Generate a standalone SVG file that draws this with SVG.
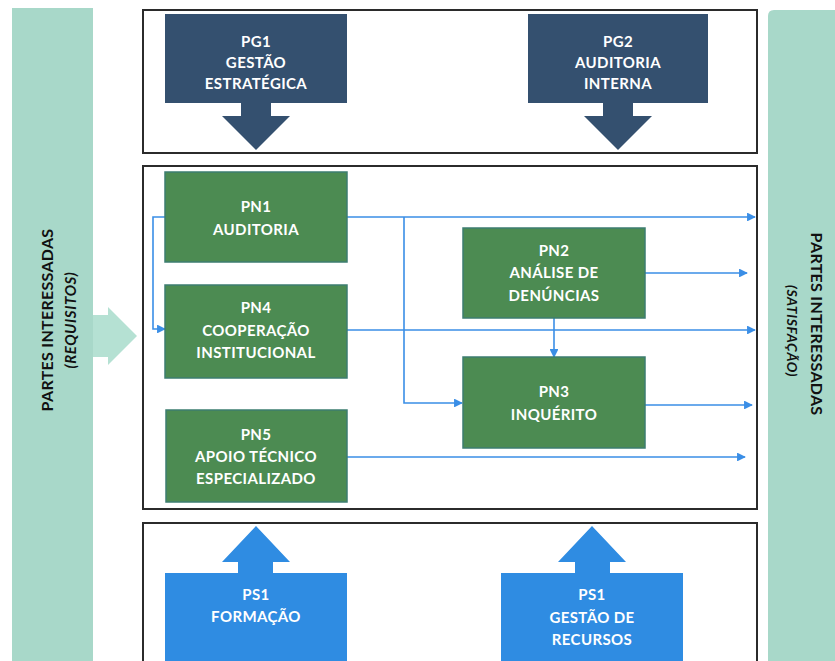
<svg xmlns="http://www.w3.org/2000/svg" width="835" height="661" viewBox="0 0 835 661">
<defs>
<style>
.bar{fill:#a8d8c9}
.frame{fill:#ffffff;stroke:#2b2b2b;stroke-width:2}
.pg{fill:#34506f}
.pn{fill:#4c8b52;stroke:#3d7d70;stroke-width:1.5}
.ps{fill:#2f8ce2}
.t{font-family:Lato,"Open Sans","Liberation Sans",sans-serif;font-weight:bold;font-size:15px;fill:#ffffff;text-anchor:middle;letter-spacing:0.4px}
.side{font-family:Lato,"Open Sans","Liberation Sans",sans-serif;font-weight:bold;font-size:16px;fill:#111111;text-anchor:middle;letter-spacing:0.3px}
.sidei{font-family:Lato,"Open Sans","Liberation Sans",sans-serif;font-weight:bold;font-style:italic;font-size:15px;fill:#111111;text-anchor:middle;letter-spacing:0.6px}
.c{fill:none;stroke:#3a8ee6;stroke-width:1.6}
.ca{fill:none;stroke:#3a8ee6;stroke-width:1.6;marker-end:url(#ah)}
</style>
<marker id="ah" viewBox="0 0 10 10" refX="9" refY="5" markerWidth="5.5" markerHeight="5.5" markerUnits="strokeWidth" orient="auto">
<path d="M0,0 L10,5 L0,10 z" fill="#3a8ee6"/>
</marker>
</defs>

<g id="stakeholders-requirements">
<rect class="bar" x="12" y="8" width="81" height="653"/>
<path d="M93,315 L108,315 L108,307 L137,336 L108,365 L108,357 L93,357 z" fill="#b5e1d3"/>
<text class="side" transform="translate(53,320) rotate(-90)">PARTES INTERESSADAS</text>
<text class="sidei" transform="translate(76,320) rotate(-90)">(REQUISITOS)</text>
</g>

<g id="stakeholders-satisfaction">
<path class="bar" d="M768,16 Q768,10 774,10 L835,10 L835,661 L768,661 z"/>
<text class="side" transform="translate(811,324) rotate(90)">PARTES INTERESSADAS</text>
<text class="sidei" style="font-size:14px" transform="translate(787,331) rotate(90)">(SATISFAÇÃO)</text>
</g>

<g id="frames">
<rect class="frame" x="143" y="10" width="614" height="143"/>
<rect class="frame" x="143" y="166" width="614" height="343"/>
<path class="frame" d="M143,663 L143,523 L757,523 L757,663"/>
</g>

<g id="PG1">
<rect class="pg" x="165" y="14" width="182" height="89"/>
<path class="pg" d="M241,102 L271,102 L271,116 L290,116 L256,150 L222,116 L241,116 z"/>
<text class="t" x="256" y="47">PG1</text>
<text class="t" x="256" y="68">GESTÃO</text>
<text class="t" x="256" y="89">ESTRATÉGICA</text>
</g>

<g id="PG2">
<rect class="pg" x="528" y="14" width="180" height="89"/>
<path class="pg" d="M603,102 L633,102 L633,116 L652,116 L618,150 L584,116 L603,116 z"/>
<text class="t" x="618" y="47">PG2</text>
<text class="t" x="618" y="68">AUDITORIA</text>
<text class="t" x="618" y="89">INTERNA</text>
</g>

<g id="connectors">
<path class="ca" d="M165,217 L153,217 L153,329 L165,329"/>
<path class="ca" d="M347,217 L755,217"/>
<path class="ca" d="M404,217 L404,403 L462,403"/>
<path class="ca" d="M347,330 L755,330"/>
<path class="ca" d="M645,273 L747,273"/>
<path class="ca" d="M554,318 L554,357"/>
<path class="ca" d="M645,405 L752,405"/>
<path class="ca" d="M347,457 L745,457"/>
</g>

<g id="PN1">
<rect class="pn" x="165" y="172" width="182" height="90"/>
<text class="t" x="256" y="212">PN1</text>
<text class="t" x="256" y="235">AUDITORIA</text>
</g>

<g id="PN4">
<rect class="pn" x="165" y="285" width="182" height="93"/>
<text class="t" x="256" y="313">PN4</text>
<text class="t" x="256" y="336">COOPERAÇÃO</text>
<text class="t" x="256" y="358">INSTITUCIONAL</text>
</g>

<g id="PN5">
<rect class="pn" x="166" y="410" width="181" height="92"/>
<text class="t" x="256" y="440">PN5</text>
<text class="t" x="256" y="462">APOIO TÉCNICO</text>
<text class="t" x="256" y="484">ESPECIALIZADO</text>
</g>

<g id="PN2">
<rect class="pn" x="463" y="228" width="182" height="90"/>
<text class="t" x="554" y="256">PN2</text>
<text class="t" x="554" y="278">ANÁLISE DE</text>
<text class="t" x="554" y="301">DENÚNCIAS</text>
</g>

<g id="PN3">
<rect class="pn" x="463" y="357" width="182" height="91"/>
<text class="t" x="554" y="397">PN3</text>
<text class="t" x="554" y="420">INQUÉRITO</text>
</g>

<g id="PS1-formacao">
<path class="ps" d="M238,574 L238,562 L222,562 L256,526 L290,562 L273,562 L273,574 z"/>
<rect class="ps" x="165" y="573" width="182" height="88"/>
<text class="t" x="256" y="600">PS1</text>
<text class="t" x="256" y="622">FORMAÇÃO</text>
</g>

<g id="PS1-gestao-recursos">
<path class="ps" d="M575,574 L575,562 L558,562 L592,526 L626,562 L610,562 L610,574 z"/>
<rect class="ps" x="501" y="573" width="182" height="88"/>
<text class="t" x="592" y="600">PS1</text>
<text class="t" x="592" y="623">GESTÃO DE</text>
<text class="t" x="592" y="645">RECURSOS</text>
</g>
</svg>
